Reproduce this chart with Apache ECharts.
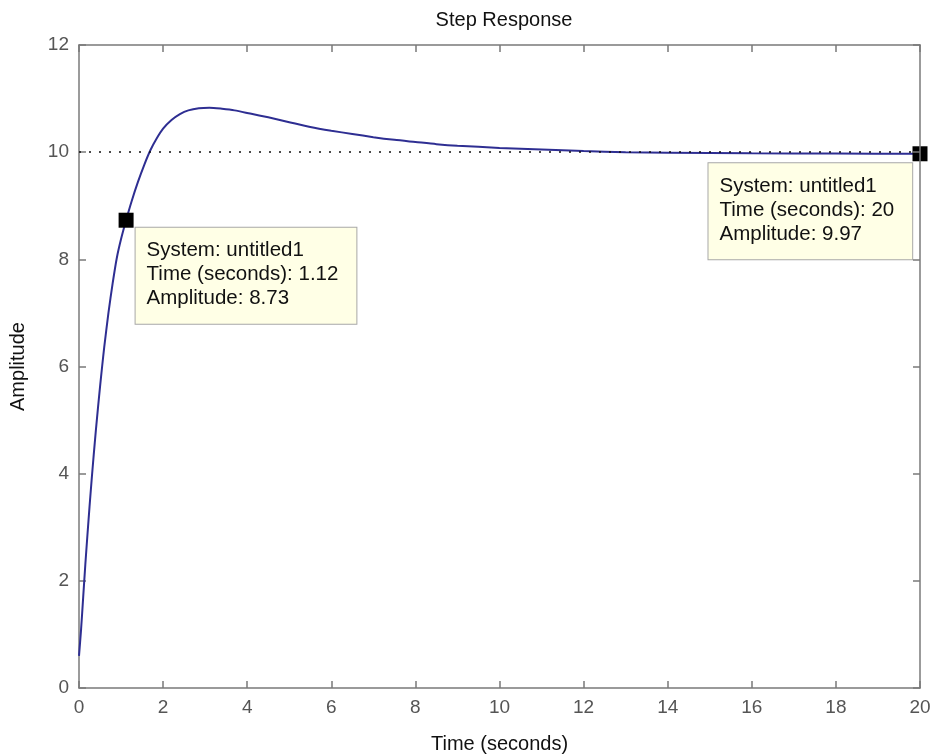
<!DOCTYPE html>
<html>
<head>
<meta charset="utf-8">
<title>Step Response</title>
<script src="https://cdn.jsdelivr.net/npm/echarts@6/dist/echarts.min.js"></script>
<style>
  html, body { margin: 0; padding: 0; background: #ffffff; }
  #chart { width: 938px; height: 756px; }
</style>
</head>
<body>
<div id="chart"></div>
<script>
// Step response samples: time (s) and amplitude
const timeValues = [0, 0.05, 0.1, 0.15, 0.2, 0.25, 0.3, 0.35, 0.4, 0.45, 0.5, 0.55, 0.6, 0.7, 0.8, 0.9, 1.0,
  1.12, 1.25, 1.4, 1.55, 1.7, 1.85, 2.0, 2.2, 2.4, 2.6, 2.85, 3.1, 3.4, 3.7, 4.07, 4.5, 5.0, 5.5,
  6.0, 6.5, 7.0, 7.5, 8.0, 8.5, 9.0, 10.0, 11.0, 12.0, 13.0, 14.0, 16.0, 18.0, 20.0];
const amplitudeValues = [0.6, 1.1, 1.7, 2.3, 2.85, 3.38, 3.88, 4.35, 4.8, 5.22, 5.62, 6.0, 6.36, 7.0, 7.55, 8.03, 8.38,
  8.73, 9.08, 9.44, 9.76, 10.04, 10.26, 10.44, 10.6, 10.71, 10.78, 10.82, 10.83, 10.81, 10.78, 10.72, 10.65, 10.56, 10.47,
  10.40, 10.34, 10.28, 10.23, 10.19, 10.15, 10.12, 10.08, 10.05, 10.02, 10.0, 9.99, 9.98, 9.975, 9.97];

// Steady-state reference level
const steadyState = 10;

// Data tips: system name, time and amplitude
const tipSystems = ['untitled1', 'untitled1'];
const tipTimes = [1.12, 20];
const tipAmplitudes = [8.73, 9.97];

// Axis ranges and tick steps
const xRange = [0, 20];
const xStep = 2;
const yRange = [0, 12];
const yStep = 2;

const FONT = 'Liberation Sans';
const AXIS_GREY = '#7a7a7a';
const LABEL_GREY = '#555555';

const curve = timeValues.map((t, i) => [t, amplitudeValues[i]]);

// The first tip sits below-right of its point, the last one below-left
const tips = tipTimes.map((t, i) => ({
  value: [t, tipAmplitudes[i]],
  name: tipSystems[i],
  label: { position: i === 0 ? [17, 15] : [-204, 17], align: 'left', verticalAlign: 'top' }
}));

function axisBase(extra) {
  return Object.assign({
    type: 'value',
    axisLine: { show: true, onZero: false, lineStyle: { color: AXIS_GREY, width: 1.5 } },
    axisTick: { show: true, inside: true, length: 7, lineStyle: { color: AXIS_GREY, width: 1.5 } },
    splitLine: { show: false }
  }, extra);
}

const chart = echarts.init(document.getElementById('chart'), null, { renderer: 'canvas' });

chart.setOption({
  animation: false,
  backgroundColor: '#ffffff',
  title: {
    text: 'Step Response',
    left: 499,
    textAlign: 'center',
    top: 5,
    textStyle: { fontFamily: FONT, fontSize: 20, fontWeight: 'normal', color: '#111' }
  },
  grid: { left: 79, right: 18, top: 45, bottom: 68, containLabel: false, outerBoundsMode: 'none' },
  xAxis: [
    axisBase({
      min: xRange[0], max: xRange[1], interval: xStep, position: 'bottom',
      name: 'Time (seconds)', nameLocation: 'middle', nameGap: 46,
      nameTextStyle: { fontFamily: FONT, fontSize: 20, color: '#111' },
      axisLabel: { margin: 10, fontFamily: FONT, fontSize: 19, color: LABEL_GREY }
    }),
    axisBase({
      min: xRange[0], max: xRange[1], interval: xStep, position: 'top',
      axisLabel: { show: false }
    })
  ],
  yAxis: [
    axisBase({
      min: yRange[0], max: yRange[1], interval: yStep, position: 'left',
      name: 'Amplitude', nameLocation: 'middle', nameGap: 51, nameRotate: 90,
      nameTextStyle: { fontFamily: FONT, fontSize: 20, color: '#111' },
      axisLabel: { margin: 10, fontFamily: FONT, fontSize: 19, color: LABEL_GREY }
    }),
    axisBase({
      min: yRange[0], max: yRange[1], interval: yStep, position: 'right',
      axisLabel: { show: false },
      z: 10
    })
  ],
  series: [
    {
      type: 'line',
      data: curve,
      xAxisIndex: 0, yAxisIndex: 0,
      showSymbol: false,
      smooth: 0.25,
      lineStyle: { color: '#2e2e92', width: 2 },
      z: 3,
      markLine: {
        silent: true,
        symbol: 'none',
        label: { show: false },
        lineStyle: { color: '#111', width: 1.5, type: [2, 8] },
        data: [{ yAxis: steadyState }]
      }
    },
    {
      type: 'scatter',
      data: tips,
      xAxisIndex: 0, yAxisIndex: 0,
      symbol: 'rect',
      symbolSize: 15,
      itemStyle: { color: '#000', opacity: 1 },
      z: 5,
      label: {
        show: true,
        fontFamily: FONT,
        fontSize: 20.5,
        lineHeight: 24,
        color: '#111',
        backgroundColor: '#ffffe6',
        borderColor: '#a8a8a8',
        borderWidth: 1,
        padding: [11, 18, 13, 11],
        formatter: (p) => 'System: ' + p.name + '\nTime (seconds): ' + p.value[0] + '\nAmplitude: ' + p.value[1].toFixed(2)
      }
    }
  ]
});
</script>
</body>
</html>
